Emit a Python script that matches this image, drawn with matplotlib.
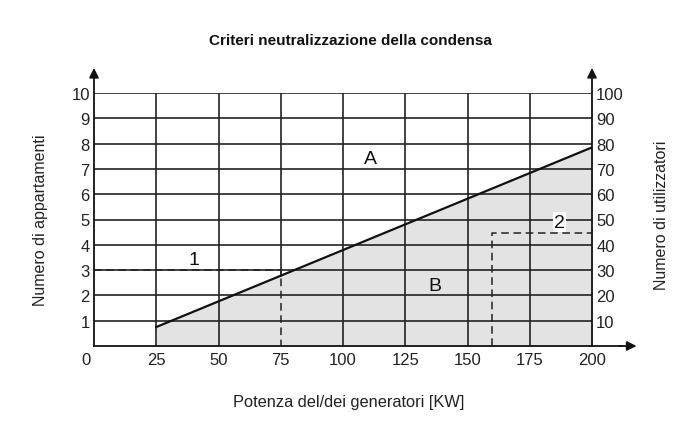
import numpy as np
import matplotlib
matplotlib.use("Agg")
import matplotlib.pyplot as plt
from matplotlib import font_manager
from matplotlib.transforms import ScaledTranslation

fams = {f.name for f in font_manager.fontManager.ttflist}
base = 'Liberation Sans' if 'Liberation Sans' in fams else 'DejaVu Sans'
narrow = 'Liberation Sans Narrow' if 'Liberation Sans Narrow' in fams else base
plt.rcParams['font.family'] = [base, 'DejaVu Sans']

# ---- data ----
title = "Criteri neutralizzazione della condensa"
x_label = "Potenza del/dei generatori [KW]"
y_label_left = "Numero di appartamenti"
y_label_right = "Numero di utilizzatori"
x_ticks = [0, 25, 50, 75, 100, 125, 150, 175, 200]
left_ticks = [1, 2, 3, 4, 5, 6, 7, 8, 9, 10]
right_ticks = [10, 20, 30, 40, 50, 60, 70, 80, 90, 100]
limit_x = [25, 200]
limit_y = [0.75, 7.85]
ex1_x = [0, 75, 75]
ex1_y = [3, 3, 0]
ex2_x = [160, 160, 200]
ex2_y = [0, 4.45, 4.45]
labels = [("A", 111, 7.4), ("B", 137, 2.4), ("1", 40, 3.4), ("2", 187, 4.9)]

fig = plt.figure(figsize=(6.88, 4.27), dpi=100)
ax = fig.add_axes([94/688, 80/427, 498/688, 253/427])
ax.set_xlim(0, 200)
ax.set_ylim(0, 10)

ax.fill_between(limit_x, 0, limit_y, color='#e3e3e3', lw=0, zorder=1)

gc = '#222222'
for x in x_ticks[1:-1]:
    y0 = 0
    if x == ex1_x[1]:
        y0 = np.interp(x, limit_x, limit_y)
    ax.plot([x, x], [y0, 10], color=gc, lw=1.2, zorder=2)
for y in left_ticks:
    ax.plot([0, 200], [y, y], color=gc, lw=1.2, zorder=2)

ax.plot(limit_x, limit_y, color='#111111', lw=1.6, zorder=3)
ax.plot(ex1_x, ex1_y, color='#222222', lw=1.1, ls=(0, (5, 3)), zorder=3)
ax.plot(ex2_x, ex2_y, color='#222222', lw=1.1, ls=(0, (5, 3)), zorder=3)

for s, x, y in labels:
    bb = dict(facecolor='white', edgecolor='none', pad=1) if s == "2" else None
    ax.text(x, y, s, fontsize=14, ha='center', va='center', color='#111111', zorder=4, bbox=bb)

for sp in ax.spines.values():
    sp.set_visible(False)

# axes with arrows
ax.plot([0, 0], [0, 10.6], color='#111111', lw=1.3, clip_on=False, zorder=5)
ax.plot([200, 200], [0, 10.6], color='#111111', lw=1.3, clip_on=False, zorder=5)
ax.plot([0, 212], [0, 0], color='#111111', lw=1.3, clip_on=False, zorder=5)
ax.annotate('', xy=(0, 11.1), xytext=(0, 10.5), annotation_clip=False,
            arrowprops=dict(arrowstyle='-|>', color='#111111', lw=1.3, mutation_scale=14))
ax.annotate('', xy=(200, 11.1), xytext=(200, 10.5), annotation_clip=False,
            arrowprops=dict(arrowstyle='-|>', color='#111111', lw=1.3, mutation_scale=14))
ax.annotate('', xy=(219, 0), xytext=(210, 0), annotation_clip=False,
            arrowprops=dict(arrowstyle='-|>', color='#111111', lw=1.3, mutation_scale=14))

fs = 12
ax.set_xticks(x_ticks)
ax.set_xticklabels([str(v) for v in x_ticks], fontsize=fs, color='#222222')
ax.set_yticks(left_ticks)
ax.set_yticklabels([str(v) for v in left_ticks], fontsize=fs, color='#222222')
ax.tick_params(length=0)
ax.tick_params(axis='x', pad=4)
ax.tick_params(axis='y', pad=3)
zero_lbl = ax.get_xticklabels()[0]
zero_lbl.set_transform(zero_lbl.get_transform() + ScaledTranslation(-6/72, 0, fig.dpi_scale_trans))

ax2 = ax.twinx()
ax2.set_ylim(0, 100)
ax2.set_yticks(right_ticks)
ax2.set_yticklabels([str(v) for v in right_ticks], fontsize=fs, color='#222222')
ax2.tick_params(length=0, pad=3)
for sp in ax2.spines.values():
    sp.set_visible(False)

ax.set_xlabel(x_label, fontsize=11.8, color='#222222', labelpad=20)
ax.xaxis.label.set_x(0.512)
ax.set_ylabel(y_label_left, fontsize=11.5, color='#222222', labelpad=17)
ax2.set_ylabel(y_label_right, fontsize=11.5, color='#222222', labelpad=22)
ax2.yaxis.label.set_y(0.52)

fig.text(0.51, 0.905, title, ha='center', va='center', fontsize=11,
         fontweight='bold', family=[narrow, 'DejaVu Sans'], color='#111111')

fig.savefig('out.png', dpi=100, facecolor='white')
